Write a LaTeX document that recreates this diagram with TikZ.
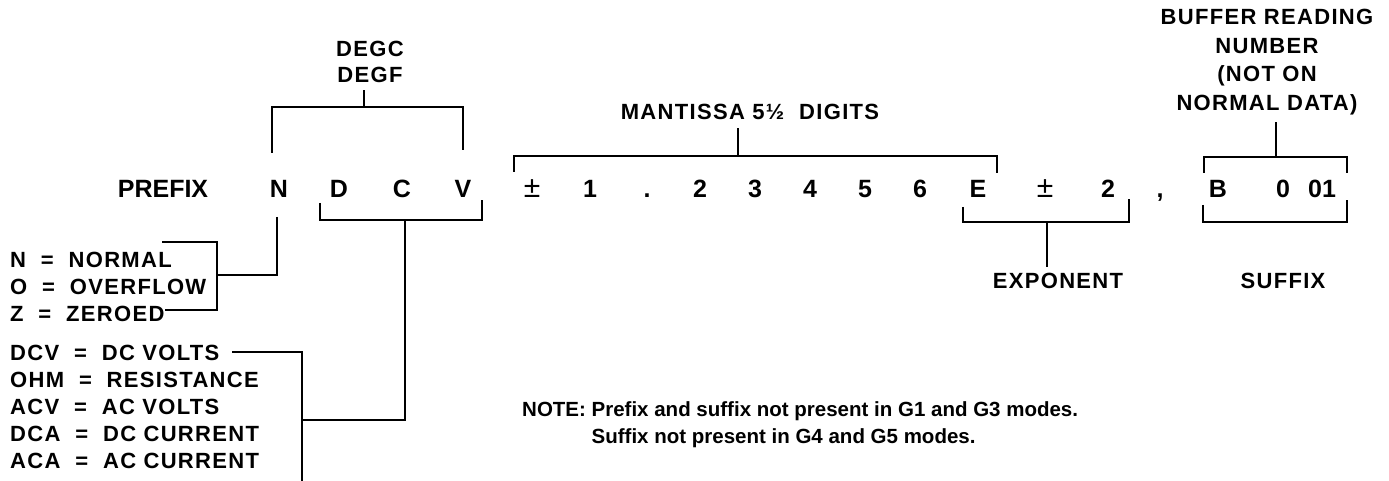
\documentclass[tikz,border=0pt]{standalone}
\usepackage{fontspec}
\setmainfont{Liberation Sans}
\begin{document}
\begin{tikzpicture}[x=1pt, y=-1pt,
  every node/.style={inner sep=0pt, anchor=base},
  glyph/.style={font=\fontsize{25}{30}\selectfont\bfseries},
  thinpm/.style={font=\fontsize{30}{30}\selectfont},
  lbl/.style={font=\fontsize{22}{27}\selectfont\bfseries\addfontfeature{LetterSpace=6}},
  notetext/.style={font=\fontsize{20.5}{27}\selectfont\bfseries, anchor=base west},
  brk/.style={line width=2.7pt, line join=miter}]
  \useasboundingbox (0,0) rectangle (1389,481);
  % the reading, one node per character
  \foreach \x/\t/\n in {163/PREFIX/pre, 279/N/cN, 339/D/cD, 402/C/cC, 463/V/cV,
      590/1/m1, 647/./dot, 700/2/m2, 755/3/m3, 810/4/m4, 865/5/m5, 920/6/m6,
      978/E/cE, 1108/2/x2, 1160/{,}/comma, 1218/B/cB, 1283/0/s0, 1322/01/s01}
    \node[glyph] (\n) at (\x,197) {\t};
  \node[thinpm] (sgnM) at (532,197) {\textpm};
  \node[thinpm] (sgnE) at (1045,197) {\textpm};
  % labels above
  \node[lbl] (degc) at (370,57) {DEGC};
  \node[lbl] (degf) at (370,83) {DEGF};
  \node[lbl] (mant) at (750,120) {MANTISSA 5\textonehalf\ \ DIGITS};
  \foreach \t [count=\i] in {{BUFFER READING}, {NUMBER}, {(NOT ON}, {NORMAL DATA)}}
    \node[lbl] (buf\i) at (1267,25+28.4*\i-28.4) {\t};
  % labels below
  \node[lbl] (expo) at (1058,288) {EXPONENT};
  \node[lbl] (suff) at (1283,288) {SUFFIX};
  \foreach \t [count=\i] in {N\ \ =\ \ NORMAL, O\ \ =\ \ OVERFLOW, Z\ \ =\ \ ZEROED}
    \node[lbl, anchor=base west] (st\i) at (10,267+27*\i-27) {\t};
  \foreach \t [count=\i] in {DCV\ \ =\ \ DC VOLTS, OHM\ \ =\ \ RESISTANCE, ACV\ \ =\ \ AC VOLTS,
      DCA\ \ =\ \ DC CURRENT, ACA\ \ =\ \ AC CURRENT}
    \node[lbl, anchor=base west] (fn\i) at (10,360+27*\i-27) {\t};
  \node[notetext] (note1) at (522,416) {NOTE:\ Prefix and suffix not present in G1 and G3 modes.};
  \node[notetext] (note2) at (522,443) {\hphantom{NOTE:\ }Suffix not present in G4 and G5 modes.};
  % bracket ends
  \coordinate (degL) at (272,153);  \coordinate (degR) at (463,150);  \coordinate (degS) at (364,107);
  \coordinate (fnL)  at (320,203);  \coordinate (fnR)  at (482,200);  \coordinate (fnS)  at (405,220);
  \coordinate (mnL)  at (514,172);  \coordinate (mnR)  at (997,173);  \coordinate (mnS)  at (738,156);
  \coordinate (exL)  at (963,207);  \coordinate (exR)  at (1129,199); \coordinate (exS)  at (1047,222);
  \coordinate (sbL)  at (1203,205); \coordinate (sbR)  at (1347,200);
  \coordinate (stL)  at (1204,173); \coordinate (stR)  at (1347,173); \coordinate (stS)  at (1276,157);
  \coordinate (nS)   at (277,217);
  \coordinate (stT)  at (162,242);  \coordinate (stB)  at (165,310);
  \coordinate (fnT)  at (232,352);
  % brackets over and under the reading
  \draw[brk] (degL) -- ++(0,-46) -| (degR);
  \draw[brk] (degS) -- ++(0,-17);
  \draw[brk] (fnL) -- ++(0,17) -| (fnR);
  \draw[brk] (mnL) -- ++(0,-16) -| (mnR);
  \draw[brk] (mnS) -- ++(0,-28);
  \draw[brk] (exL) -- ++(0,15) -| (exR);
  \draw[brk] (exS) -- ++(0,45);
  \draw[brk] (sbL) -- ++(0,17) -| (sbR);
  \draw[brk] (stL) -- ++(0,-16) -| (stR);
  \draw[brk] (stS) -- ++(0,-35);
  % leaders to the lists on the left
  \draw[brk] (nS) -- ++(0,58) -- ++(-60,0);
  \draw[brk] (stT) -- ++(55,0) |- (stB);
  \draw[brk] (fnS) -- ++(0,200) -- ++(-103,0);
  \draw[brk] (fnT) -- ++(70,0) -- ++(0,130);
\end{tikzpicture}
\end{document}
